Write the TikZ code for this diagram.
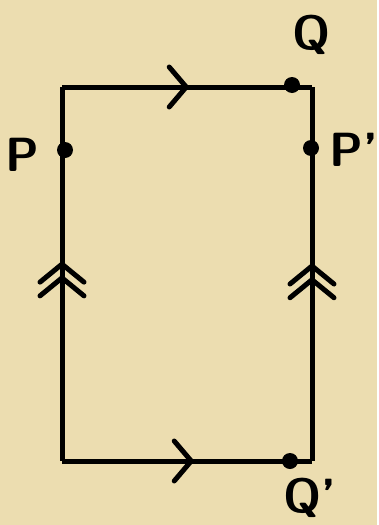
\documentclass[tikz,border=0pt]{standalone}
\usepackage{tikz}
\usetikzlibrary{arrows.meta, decorations.markings, positioning}

\definecolor{parch}{RGB}{236,221,176}

\begin{document}
\begin{tikzpicture}[
        x=1pt, y=-1pt,
        side/.style={line width=5pt, line join=miter},
        dot/.style={circle, fill=black, inner sep=0pt, minimum size=16pt},
        lbl/.style={font=\sffamily\bfseries\fontsize{48}{48}\selectfont, inner sep=0pt},
        barb/.style={decoration={markings, mark=at position #1 with {\arrow[line width=5pt]{Straight Barb[length=17pt, width=40pt, line cap=round]}}}, postaction=decorate},
        dbarb/.style={decoration={markings, mark=at position #1 with {\arrow[line width=5pt]{Straight Barb[length=18pt, width=44pt, line cap=round, sep=-10pt]Straight Barb[length=18pt, width=44pt, line cap=round]}}}, postaction=decorate}
    ]

    % background
    \fill[parch] (0,0) rectangle (377,525);

    % corners
    \coordinate (tl) at (62,87);
    \coordinate (tr) at (312,87);
    \coordinate (bl) at (62,461);
    \coordinate (br) at (312,461);

    % sides
    \draw [side, barb=0.51] (tl) -- (tr);
    \draw [side, barb=0.53] (bl) -- (br);
    \draw [side, dbarb=0.535] (bl) -- (tl);
    \draw [side, dbarb=0.53] (br) -- (tr);

    % points
    \node [dot] (Q) at (292,85) {};
    \node [dot] (P) at (65,150) {};
    \node [dot] (Pp) at (311,148) {};
    \node [dot] (Qp) at (290,461) {};

    % labels
    \node [lbl] (Qlbl) at (312,35) {Q};
    \node [lbl] (Plbl) at (22,155) {P};
    \node [lbl] (Pplbl) at (354,150) {P'};
    \node [lbl] (Qplbl) at (310,498) {Q'};

\end{tikzpicture}
\end{document}
